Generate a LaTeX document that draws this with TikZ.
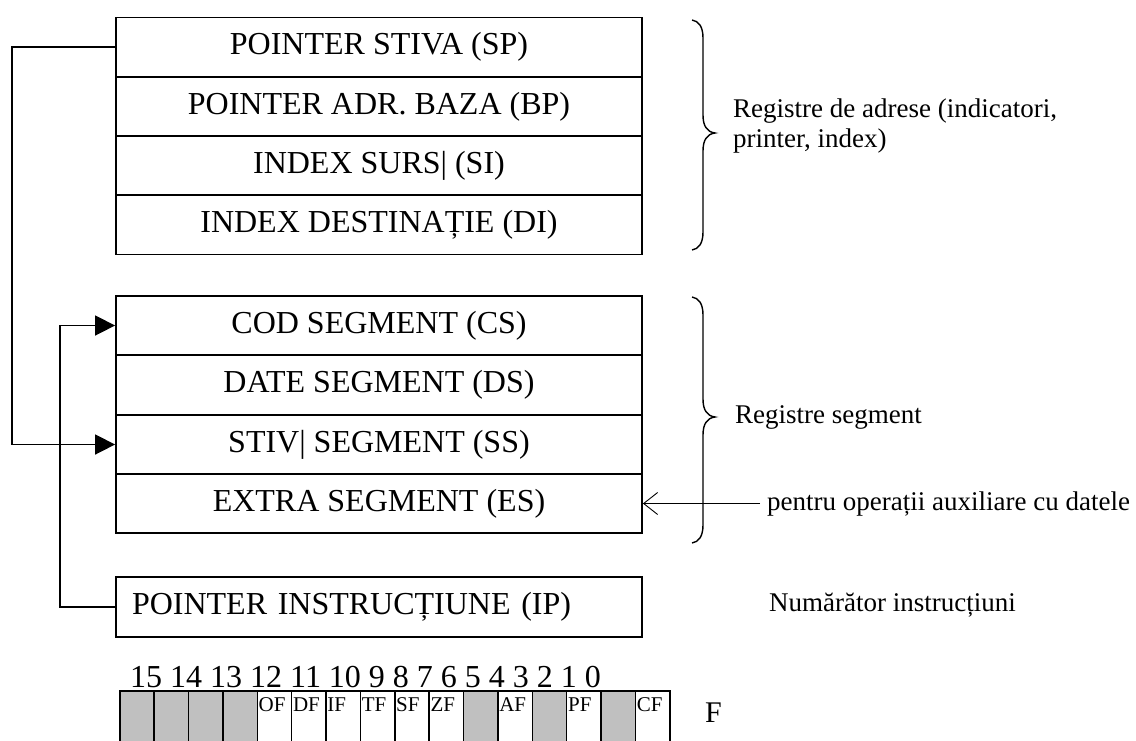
\documentclass[tikz,border=0pt]{standalone}
\usepackage{fontspec}
\setmainfont{Liberation Serif}
\usetikzlibrary{arrows.meta}
\definecolor{cellgray}{RGB}{192,192,192}
\begin{document}
\begin{tikzpicture}[x=1pt,y=-1pt,
  reg/.style={draw,line width=1.8pt,minimum width=526pt,minimum height=59pt,inner sep=0pt,font=\fontsize{32}{38}\selectfont},
  conn/.style={line width=1.6pt},
  tiparrow/.style={-{Triangle[length=20pt,width=20pt]}},
  note/.style={font=\fontsize{27}{31}\selectfont,anchor=base west,inner sep=0pt},
  bracestyle/.style={line width=1.4pt},
  cell/.style={draw,line width=1.6pt,minimum width=34.375pt,minimum height=70pt,anchor=north west,inner sep=0pt},
  flag/.style={font=\fontsize{21}{23}\selectfont,anchor=base west,inner sep=0pt}
]
\useasboundingbox (0,0) rectangle (1136,740);

% address registers
\node[reg] (sp) at (379,47) {POINTER STIVA (SP)};
\node[reg] (bp) at (379,106.5) {POINTER ADR. BAZA (BP)};
\node[reg] (si) at (379,165.5) {INDEX SURS| (SI)};
\node[reg] (di) at (379,225) {INDEX DESTINAȚIE (DI)};

% segment registers
\node[reg] (cs) at (379,325.5) {COD SEGMENT (CS)};
\node[reg] (ds) at (379,385) {DATE SEGMENT (DS)};
\node[reg] (ss) at (379,444.5) {STIV| SEGMENT (SS)};
\node[reg] (es) at (379,503.5) {EXTRA SEGMENT (ES)};

% instruction pointer
\node[reg,minimum height=60pt,text width=494pt,inner xsep=16pt,align=left] (ip) at (379,607) {POINTER INSTRUCȚIUNE (IP)};

% connectors
\draw[conn,tiparrow] (sp.west) -- ++(-103,0) |- (ss.west);
\draw[conn,tiparrow] (ip.west) -- ++(-55,0) |- (cs.west);
\coordinate (esin) at (760,503.5);
\draw[line width=0.9pt,-{Straight Barb[length=14pt,width=22pt]}] (esin) -- (es.east);

% braces
\draw[bracestyle] (692,20) .. controls (699,21) and (703,27) .. (703,38) -- (703,115)
  .. controls (703,126) and (707,132) .. (715,133)
  .. controls (707,134) and (703,140) .. (703,151) -- (703,232)
  .. controls (703,243) and (699,249) .. (692,250);
\draw[bracestyle] (692,297) .. controls (699,298) and (703,304) .. (703,315) -- (703,399)
  .. controls (703,410) and (707,416) .. (715,417)
  .. controls (707,418) and (703,424) .. (703,435) -- (703,525)
  .. controls (703,536) and (699,542) .. (692,543);

% notes
\node[note] (adr1) at (733,117) {Registre de adrese (indicatori,};
\node[note] (adr2) at (733,147) {printer, index)};
\node[note] (seg) at (735,423) {Registre segment};
\node[note] (aux) at (767,510) {pentru operații auxiliare cu datele};
\node[note] (num) at (769,611) {Numărător instrucțiuni};

% flags register
\node[anchor=base west,inner sep=0pt,font=\fontsize{32}{38}\selectfont] (bits) at (130,687) {15 14 13 12 11 10 9 8 7 6 5 4 3 2 1 0};
\foreach \i in {0,1,2,3,10,12,14}
  \node[cell,fill=cellgray] (c\i) at ({119+34.375*\i},690) {};
\foreach \i/\lab in {4/OF,5/DF,6/IF,7/TF,8/SF,9/ZF,11/AF,13/PF,15/CF}{
  \node[cell] (c\i) at ({119+34.375*\i},690) {};
  \node[flag] (l\i) at ({121+34.375*\i},711) {\lab};
}
\node[anchor=base west,inner sep=0pt,font=\fontsize{30}{34}\selectfont] (freg) at (705,722) {F};
\end{tikzpicture}
\end{document}
